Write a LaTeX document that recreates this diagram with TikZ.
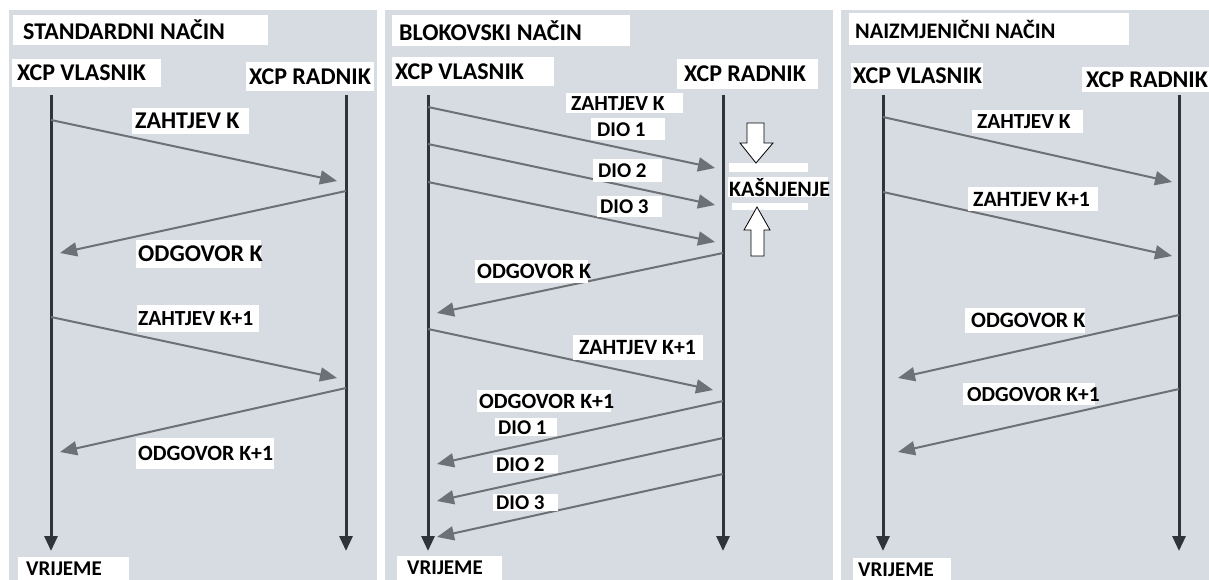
\documentclass[tikz,border=0pt]{standalone}
\usepackage{fontspec}
\setmainfont{Carlito}
\usetikzlibrary{arrows.meta}
\definecolor{panelgrey}{HTML}{D6DCE1}
\definecolor{lifecol}{HTML}{303338}
\definecolor{msgcol}{HTML}{6D7074}
\newcommand\lbox[7]{\node[lbl, font=\bfseries\fontsize{#5}{#5}\selectfont, minimum width=#3pt, minimum height=#4pt] (#1) at (#2) {\makebox[#3pt][l]{\hspace*{#6pt}#7}};}
\newcommand\msgarrow[3]{\coordinate (#1s) at (#2); \coordinate (#1e) at (#3); \draw[msg] (#1s) -- (#1e);}
\newcommand\lifeline[3]{\coordinate (#1s) at (#2,95); \coordinate (#1e) at (#2,#3); \draw[life] (#1s) -- (#1e);}
\begin{document}
\begin{tikzpicture}[x=1pt,y=-1pt,
  panel/.style={fill=panelgrey, draw=none},
  life/.style={draw=lifecol, line width=3pt, -{Triangle[width=13pt,length=15pt]}},
  msg/.style={draw=msgcol, line width=2pt, -{Triangle[width=14pt,length=17pt]}},
  lbl/.style={fill=white, inner sep=0pt, anchor=north west, text=black},
  bar/.style={fill=white, draw=none},
  blockarrow/.style={fill=white, draw=black, line width=0.8pt, line join=miter}]
\useasboundingbox (0,0) rectangle (1209,580);
\fill[white] (0,0) rectangle (1209,580);
% panels
\fill[panel] (9,10) rectangle (377,580);
\fill[panel] (385,10) rectangle (833,580);
\fill[panel] (841,10) rectangle (1209,580);

% ---------------- Panel 1 ----------------
\lifeline{p1a}{51}{551}
\lifeline{p1b}{346}{551}
\msgarrow{m11}{51,120}{337,181}
\msgarrow{m12}{346,191}{60,253}
\msgarrow{m13}{51,317}{337,378}
\msgarrow{m14}{346,388}{60,452}
\lbox{t1}{13,15}{255}{30}{24}{10}{STANDARDNI NAČIN}
\lbox{v1}{12,59}{149}{28}{24}{5}{XCP VLASNIK}
\lbox{r1}{246,62}{128}{29}{24}{3}{XCP RADNIK}
\lbox{l11}{132,108}{117}{26}{24}{3}{ZAHTJEV K}
\lbox{l12}{136,240}{125}{28}{24}{2}{ODGOVOR K}
\lbox{l13}{137,305}{122}{27}{21.5}{1}{ZAHTJEV K+1}
\lbox{l14}{136,438}{138}{31}{21.8}{2}{ODGOVOR K+1}
\lbox{tm1}{18,557}{111}{26}{21}{8}{\raisebox{3pt}{VRIJEME}}

% ---------------- Panel 2 ----------------
\lifeline{p2a}{428}{551}
\lifeline{p2b}{723}{551}
\msgarrow{m21}{428,107}{715,168}
\msgarrow{m22}{428,144}{715,205}
\msgarrow{m23}{428,182}{715,242}
\msgarrow{m24}{723,253}{437,313}
\msgarrow{m25}{428,329}{713,390}
\msgarrow{m26}{723,401}{437,464}
\msgarrow{m27}{723,438}{437,501}
\msgarrow{m28}{723,474}{437,537}
\lbox{t2}{392,15}{238}{31}{24}{7}{BLOKOVSKI NAČIN}
\lbox{v2}{392,57}{162}{29}{24}{3}{XCP VLASNIK}
\lbox{r2}{677,59}{141}{30}{24}{7}{XCP RADNIK}
\lbox{l21}{566,93}{117}{20}{21.5}{5}{ZAHTJEV K}
\lbox{l21b}{591,118}{74}{22}{21}{6}{DIO 1}
\lbox{l22}{593,159}{69}{23}{21}{5}{DIO 2}
\lbox{l23}{597,196}{65}{21}{21}{3}{DIO 3}
\lbox{l24}{475,260}{113}{23}{22}{2}{ODGOVOR K}
\lbox{l25}{573,335}{130}{25}{21.8}{6}{ZAHTJEV K+1}
\lbox{l26}{477,390}{134}{22}{21.8}{2}{ODGOVOR K+1}
\lbox{l26b}{495,418}{62}{18}{21}{3}{DIO 1}
\lbox{l27}{493,455}{65}{18}{21}{3}{DIO 2}
\lbox{l28}{493,494}{65}{17}{21}{3}{DIO 3}
\lbox{tm2}{397,556}{105}{26}{21}{10}{\raisebox{3pt}{VRIJEME}}
% delay marker
\fill[bar] (729,163) rectangle (808,172);
\fill[bar] (732,203) rectangle (808,210);
\lbox{ka}{728,177}{100}{20}{22}{1}{KAŠNJENJE}
\draw[blockarrow] (747,123) -- (764,123) -- (764,143) -- (773,143) -- (756,163) -- (740,143) -- (747,143) -- cycle;
\draw[blockarrow] (751,256) -- (764,256) -- (764,230) -- (770,230) -- (757,207) -- (744,230) -- (751,230) -- cycle;

% ---------------- Panel 3 ----------------
\lifeline{p3a}{883}{551}
\lifeline{p3b}{1179}{551}
\msgarrow{m31}{883,117}{1172,182}
\msgarrow{m32}{883,192}{1172,256}
\msgarrow{m33}{1179,315}{898,378}
\msgarrow{m34}{1179,389}{898,452}
\lbox{t3}{849,13}{280}{32}{22.2}{6}{NAIZMJENIČNI NAČIN}
\lbox{v3}{851,63}{132}{26}{24}{2}{XCP VLASNIK}
\lbox{r3}{1082,67}{127}{25}{24}{4}{XCP RADNIK}
\lbox{l31}{972,110}{111}{23}{21.5}{5}{ZAHTJEV K}
\lbox{l32}{968,187}{130}{24}{21.8}{5}{ZAHTJEV K+1}
\lbox{l33}{965,308}{120}{25}{22}{6}{ODGOVOR K}
\lbox{l34}{963,383}{132}{22}{21.4}{4}{ODGOVOR K+1}
\lbox{tm3}{853,558}{98}{26}{21}{5}{\raisebox{3pt}{VRIJEME}}
\end{tikzpicture}
\end{document}
